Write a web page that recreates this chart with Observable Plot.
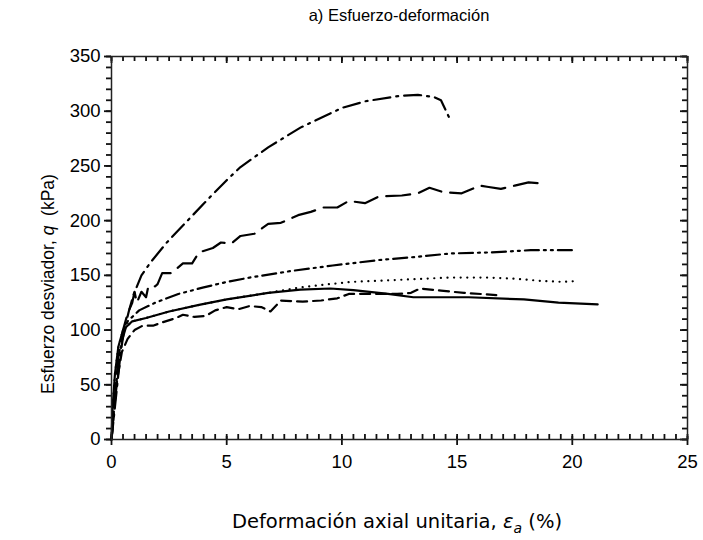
<!DOCTYPE html>
<html><head><meta charset="utf-8">
<script src="https://cdn.jsdelivr.net/npm/d3@7"></script>
<script src="https://cdn.jsdelivr.net/npm/@observablehq/plot@0.6"></script>
<style>
body{margin:0;background:#fff;font-family:"Liberation Sans",Arial,sans-serif;}
#wrap{position:relative;width:703px;height:540px;}
#title{position:absolute;left:111px;width:576px;top:6px;text-align:center;font-size:16.5px;color:#000;z-index:2;font-family:"Liberation Sans",Arial,sans-serif;}
#chart{position:absolute;top:0;left:0;}
</style></head><body>
<div id="wrap"><div id="title">a) Esfuerzo-deformación</div><div id="chart"></div></div>
<script>
// Series 1: dash-dot (highest)
const strain1 = [0,0.1,0.25,0.4,0.55,0.75,0.95,1.3,1.7,2.4,3.3,4.3,5.0,5.6,6.8,8.2,10.0,11.0,12.5,13.3,14.0,14.3,14.75];
const q1 =      [0,20,50,80,100,117,132,150,162,180,200,222,237,249,267,285,303,309,314,315,313,310,290];
// Series 2: long dash (wavy)
const strain2 = [0,0.15,0.3,0.5,0.7,0.9,1.0,1.1,1.3,1.5,1.6,1.9,2.0,2.2,2.6,3.1,3.5,3.8,4.4,4.75,5.2,5.6,6.2,6.8,7.35,8.1,8.65,9.2,9.8,10.3,11.0,11.6,12.6,13.3,13.8,14.4,15.2,16.0,16.3,16.9,17.5,18.1,18.65];
const q2 =      [0,40,75,100,115,125,135,125,135,130,140,140,142,152,152,161,161,171,175,180,179,186,188,197,198,205,208,212,212,218,216,222,223,225,230,226,225,232,231,229,232,235,234];
// Series 3: dash-dot-dot
const strain3 = [0,0.1,0.25,0.45,0.7,1.2,1.9,2.9,4.0,5.0,6.0,7.8,9.6,11.6,13.3,14.7,16.5,18.2,20.1];
const q3 =      [0,25,60,90,108,118,125,133,139,144,148,154,159,164,167,170,171,173,173];
// Series 4: dotted
const strain4 = [0,0.05,0.15,0.3,0.5,0.9,1.5,2.5,3.8,5.0,6.8,8.2,9.0,10.4,12.6,14.7,16.3,17.5,18.6,19.6,20.3];
const q4 =      [0,30,60,85,100,108,111,117,123,128,134,139,141,144,146,148,148,147,145,144,145];
// Series 5: solid
const strain5 = [0,0.05,0.15,0.3,0.5,0.9,1.5,2.5,3.8,5.0,6.8,8.2,9.5,10.5,12.0,13.1,15.5,17.9,19.4,21.1];
const q5 =      [0,30,60,85,100,108,111,117,123,128,134,137,138,136.5,133,130,130,128,125,123.5];
// Series 6: dashed (medium)
const strain6 = [0,0.1,0.25,0.45,0.7,1.0,1.35,1.8,2.2,2.8,3.1,3.6,4.1,4.5,5.0,5.5,6.0,6.5,6.9,7.35,8.3,9.1,9.8,10.3,11.3,12.4,13.0,13.4,14.3,15.3,16.7];
const q6 =      [0,25,55,80,92,100,104,104,107,111,114,112,113,118,121,119,122,121,117,127,126,127,129,133,133,133,134,138,136,134,132];

const xTicks = [0,5,10,15,20,25];
const yTicks = [0,50,100,150,200,250,300,350];
const xMinor = d3.range(0, 25.001, 0.5);
const yMinor = d3.range(0, 350.001, 10);

const toRows = (xs, ys) => xs.map((x, i) => ({x, q: ys[i]}));
const s1 = toRows(strain1, q1), s2 = toRows(strain2, q2), s3 = toRows(strain3, q3);
const s4 = toRows(strain4, q4), s5 = toRows(strain5, q5), s6 = toRows(strain6, q6);

const W = 703, H = 540, mT = 56, mB = 101, mL = 111, mR = 16;
const PW = W - mL - mR, PH = H - mT - mB;

const font = "'Liberation Sans', Arial, sans-serif";
const lineOpts = {x: "x", y: "q", stroke: "#000", strokeWidth: 2.2, curve: "linear"};
const tk = {stroke: "#111", strokeWidth: 1.8};

const chart = Plot.plot({
  width: W, height: H,
  marginTop: mT, marginBottom: mB, marginLeft: mL, marginRight: mR,
  x: {domain: [0, 25]},
  y: {domain: [0, 350]},
  style: {fontFamily: font, fontSize: "18.5px", color: "#000", background: "#fff"},
  marks: [
    Plot.line(s5, {...lineOpts}),
    Plot.line(s4, {...lineOpts, strokeDasharray: "0.1,6.5", strokeLinecap: "round"}),
    Plot.line(s6, {...lineOpts, strokeDasharray: "10,6"}),
    Plot.line(s3, {...lineOpts, strokeDasharray: "14,5,2,5,2,5"}),
    Plot.line(s2, {...lineOpts, strokeDasharray: "24,9"}),
    Plot.line(s1, {...lineOpts, strokeDasharray: "17,6,2,6"}),
    // tick marks: bottom, top, left, right
    Plot.ruleX(xTicks, {x: d => d, ...tk, insetTop: PH - 3, insetBottom: -6}),
    Plot.ruleX(xMinor, {x: d => d, ...tk, insetTop: PH - 5, insetBottom: 0}),
    Plot.ruleX(xTicks, {x: d => d, ...tk, insetTop: 0, insetBottom: PH - 7}),
    Plot.ruleX(xMinor, {x: d => d, ...tk, insetTop: 0, insetBottom: PH - 5}),
    Plot.ruleY(yTicks, {y: d => d, ...tk, insetLeft: -7, insetRight: PW}),
    Plot.ruleY(yMinor, {y: d => d, ...tk, insetLeft: -5, insetRight: PW}),
    Plot.ruleY(yTicks, {y: d => d, ...tk, insetLeft: PW - 7, insetRight: 0}),
    Plot.ruleY(yMinor, {y: d => d, ...tk, insetLeft: PW - 5, insetRight: 0}),
    Plot.frame({stroke: "#222", strokeWidth: 1.5}),
    Plot.axisX({anchor: "bottom", ticks: xTicks, tickSize: 0, tickPadding: 15, fontSize: 18.5, label: null, tickFormat: d3.format("d")}),
    Plot.axisY({anchor: "left", ticks: yTicks, tickSize: 0, tickPadding: 11, fontSize: 18.5, label: null, tickFormat: d3.format("d")})
  ]
});
document.getElementById("chart").appendChild(chart);

const svg = d3.select(chart);
// y axis label
const yl = svg.append("text")
  .attr("transform", "translate(54,284) rotate(-90)")
  .attr("text-anchor", "middle")
  .attr("font-family", font).attr("font-size", 17.5).attr("fill", "#000");
yl.append("tspan").text("Esfuerzo desviador, ");
yl.append("tspan").attr("font-style", "italic").text("q");
yl.append("tspan").text("\u00a0 (kPa)");
// x axis label
const xl = svg.append("text")
  .attr("x", 397).attr("y", 528)
  .attr("text-anchor", "middle")
  .attr("font-family", "'DejaVu Sans','Liberation Sans',sans-serif").attr("font-size", 19.5).attr("fill", "#000");
xl.append("tspan").text("Deformación axial unitaria, ");
xl.append("tspan").attr("font-style", "italic").text("ε");
xl.append("tspan").attr("font-style", "italic").attr("font-size", 14).attr("dy", 5).text("a");
xl.append("tspan").attr("dy", -5).text(" (%)");
</script>
</body></html>
